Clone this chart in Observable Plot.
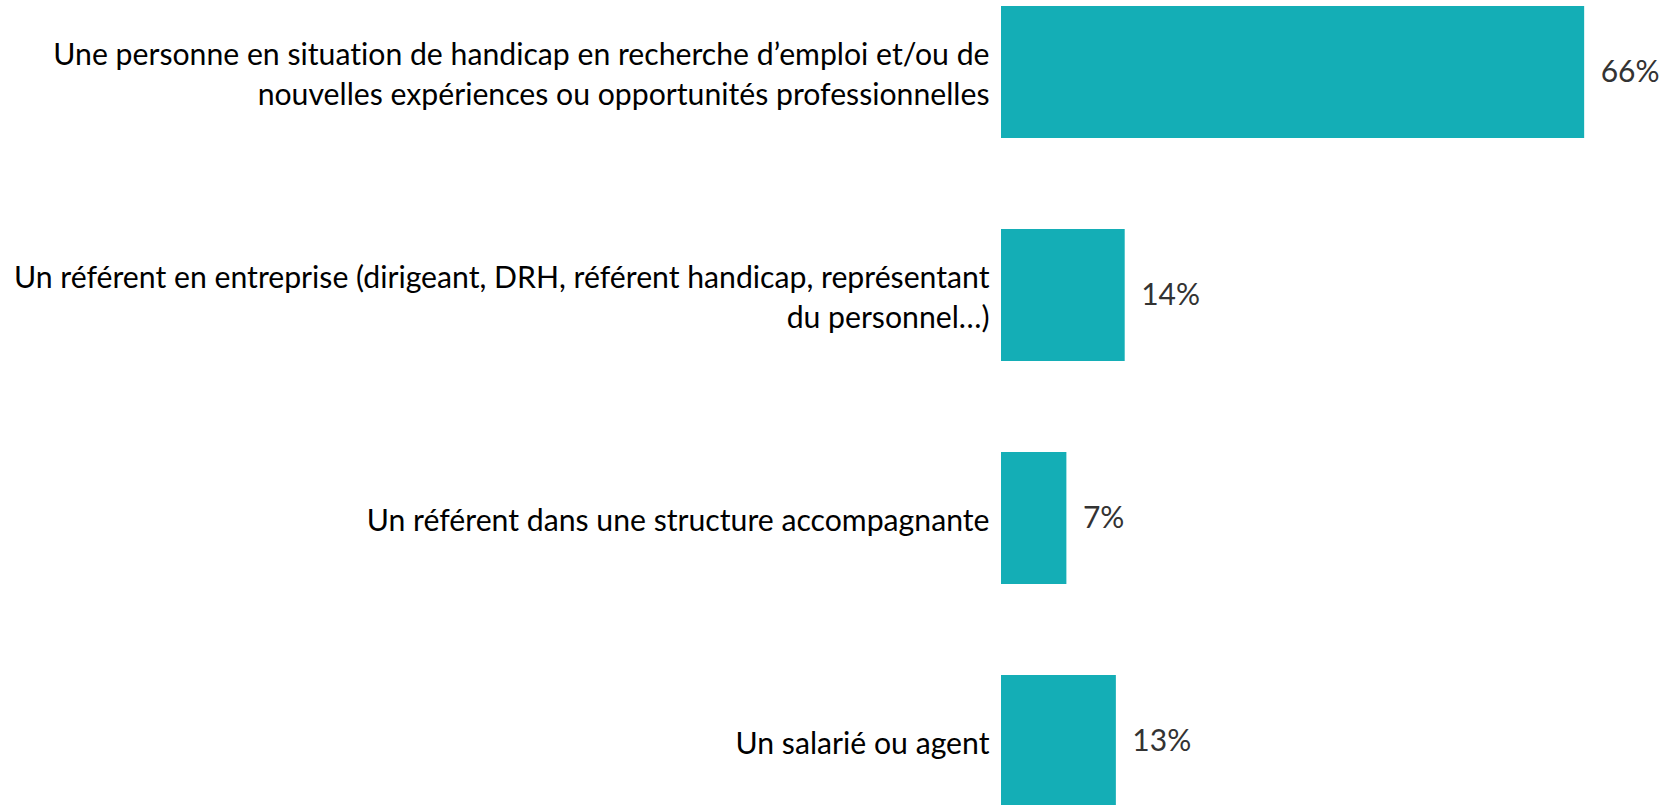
<!DOCTYPE html>
<html>
<head>
<meta charset="utf-8">
<script src="https://cdn.jsdelivr.net/npm/d3@7"></script>
<script src="https://cdn.jsdelivr.net/npm/@observablehq/plot@0.6"></script>
<style>
  html, body { margin: 0; padding: 0; background: #fff; }
  #chart svg { display: block; }
  #chart svg text { font-variant-ligatures: none; }
</style>
</head>
<body>
<div id="chart"></div>
<script>
const categories = [
  "Une personne en situation de handicap en recherche d’emploi et/ou de\nnouvelles expériences ou opportunités professionnelles",
  "Un référent en entreprise (dirigeant, DRH, référent handicap, représentant\ndu personnel…)",
  "Un référent dans une structure accompagnante",
  "Un salarié ou agent"
];
const values = [66, 14, 7.4, 13];
const valueLabels = ["66%", "14%", "7%", "13%"];

const data = categories.map((c, i) => ({cat: c, value: values[i], label: valueLabels[i]}));

const chart = Plot.plot({
  width: 1665,
  height: 805,
  marginTop: 0, marginBottom: 0, marginLeft: 0, marginRight: 0,
  style: {fontFamily: "Lato, 'Open Sans', sans-serif", background: "#fff"},
  x: {domain: [0, 70], range: [1001, 1619.5], axis: null},
  y: {domain: categories, range: [5.3, 807], padding: 0.41, paddingOuter: 0, axis: null},
  marks: [
    Plot.barX(data, {x: "value", y: "cat", fill: "#14aeb6"}),
    Plot.text(data, {x: 0, y: "cat", text: "cat", textAnchor: "end", dx: -12, fontSize: 30.2, lineHeight: 1.32, fill: "#000"}),
    Plot.text(data, {x: "value", y: "cat", text: "label", textAnchor: "start", dx: 16, fontSize: 30, fill: "#333"})
  ]
});
document.getElementById("chart").appendChild(chart);
</script>
</body>
</html>
